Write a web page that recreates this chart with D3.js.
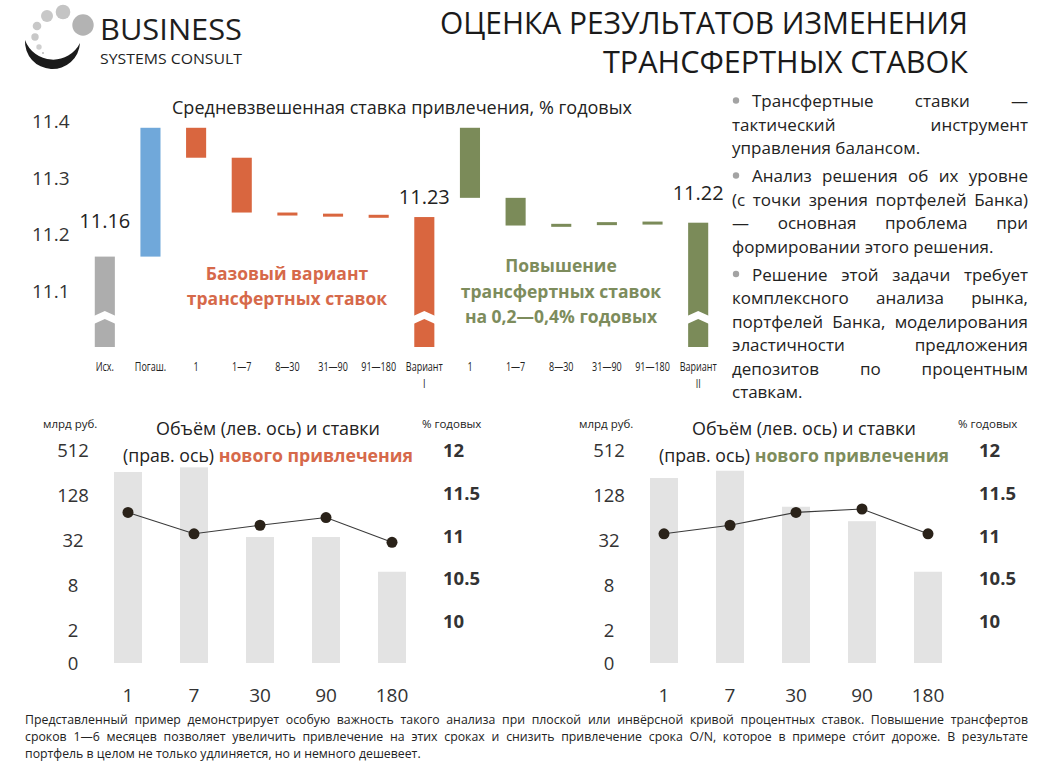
<!DOCTYPE html>
<html><head><meta charset="utf-8">
<script src="https://cdn.jsdelivr.net/npm/d3@7"></script>
<style>
body{margin:0;background:#fff;}
#wrap{position:relative;width:1055px;height:766px;overflow:hidden;background:#fff;}
svg text{font-family:"Open Sans","Noto Sans",sans-serif;}
</style></head><body><div id="wrap"></div>
<script>
// ---------- DATA ----------
const wfLabels = ["Исх.","Погаш.","1","1—7","8—30","31—90","91—180","Вариант|I","1","1—7","8—30","31—90","91—180","Вариант|II"];
const wfStart  = [11.0, 11.16, 11.388, 11.335, 11.238, 11.236, 11.234, 11.0, 11.388, 11.264, 11.215, 11.218, 11.221, 11.0];
const wfEnd    = [11.16, 11.388, 11.335, 11.238, 11.236, 11.234, 11.232, 11.23, 11.264, 11.215, 11.218, 11.221, 11.222, 11.22];
const wfGroup  = ["total","repay","base","base","base","base","base","baseTotal","raise","raise","raise","raise","raise","raiseTotal"];
const wfTicks  = [11.1, 11.2, 11.3, 11.4];

const terms     = ["1","7","30","90","180"];
const volBase   = [260, 300, 35, 35, 12];
const rateBase  = [11.27, 11.02, 11.12, 11.21, 10.92];
const volRaise  = [216, 270, 89, 57, 12];
const rateRaise = [11.02, 11.12, 11.27, 11.31, 11.02];
const volTicks  = [0, 2, 8, 32, 128, 512];
const rateTicks = [10, 10.5, 11, 11.5, 12];

const bullets = [
  [["Трансфертные ставки —",1],["тактический инструмент",1],["управления балансом.",0]],
  [["Анализ решения об их уровне",1],["(с точки зрения портфелей Банка)",1],["— основная проблема при",1],["формировании этого решения.",0]],
  [["Решение этой задачи требует",1],["комплексного анализа рынка,",1],["портфелей Банка, моделирования",1],["эластичности предложения",1],["депозитов по процентным",1],["ставкам.",0]]
];
const footLines = [
  ["Представленный пример демонстрирует особую важность такого анализа при плоской или инвёрсной кривой процентных ставок. Повышение трансфертов",1],
  ["сроков 1—6 месяцев позволяет увеличить привлечение на этих сроках и снизить привлечение срока O/N, которое в примере сто́ит дороже. В результате",1],
  ["портфель в целом не только удлиняется, но и немного дешевеет.",0]
];

// ---------- STYLE ----------
const C = {
  text:"#222", axis:"#333", orange:"#d9663f", orangeText:"#d6694a", green:"#7b8b59", greenText:"#7d8c5c",
  blue:"#70a8da", gray:"#adadad", light:"#e3e3e3", dot:"#2a2219"
};
const groupColor = {total:C.gray, repay:C.blue, base:C.orange, baseTotal:C.orange, raise:C.green, raiseTotal:C.green};

const svg = d3.select("#wrap").append("svg").attr("width",1055).attr("height",766);

// ---------- LOGO ----------
const logo = svg.append("g");
logo.append("path").attr("d","M25,40 A27.5,27.5 0 0 0 80,43 A30,30 0 0 1 25,40 Z").attr("fill","#1b1b1b");
[[83,25,10.7,"#b3b3b3"],[63,12,7.3,"#c4c4c4"],[47,16,6,"#c8c8c8"],[37,26,4.3,"#c8c8c8"],[35,37,3.7,"#c8c8c8"],[39,47,2.7,"#cfcfcf"],[43,53,1,"#bbbbbb"]]
  .forEach(c=>logo.append("circle").attr("cx",c[0]).attr("cy",c[1]).attr("r",c[2]).attr("fill",c[3]));
logo.append("text").attr("x",100).attr("y",40).attr("font-size",28.5).attr("fill","#1e1e1e")
  .attr("textLength",142).attr("lengthAdjust","spacingAndGlyphs").text("BUSINESS");
logo.append("text").attr("x",100).attr("y",64).attr("font-size",15).attr("fill","#1e1e1e")
  .attr("textLength",142).attr("lengthAdjust","spacingAndGlyphs").text("SYSTEMS CONSULT");

// ---------- TITLE ----------
svg.append("text").attr("x",968).attr("y",34).attr("text-anchor","end").attr("font-size",31).attr("fill","#1a1a1a")
  .attr("textLength",528).attr("lengthAdjust","spacingAndGlyphs").text("ОЦЕНКА РЕЗУЛЬТАТОВ ИЗМЕНЕНИЯ");
svg.append("text").attr("x",968).attr("y",73).attr("text-anchor","end").attr("font-size",31).attr("fill","#1a1a1a")
  .attr("textLength",365).attr("lengthAdjust","spacingAndGlyphs").text("ТРАНСФЕРТНЫХ СТАВОК");

// ---------- WATERFALL ----------
const wf = svg.append("g");
const xW = d3.scaleBand().domain(d3.range(wfLabels.length)).range([82,721]).paddingInner(0.56).paddingOuter(0.28);
const yW = d3.scaleLinear().domain([11.0, 11.4]).range([347, 121]);

wf.append("text").attr("x",172).attr("y",114).attr("font-size",17.5).attr("fill",C.text)
  .attr("textLength",460).attr("lengthAdjust","spacingAndGlyphs").text("Средневзвешенная ставка привлечения, % годовых");

wf.selectAll("text.yt").data(wfTicks).join("text").attr("class","yt")
  .attr("x",32).attr("y",d=>yW(d)+7).attr("font-size",19).attr("fill",C.axis).text(d=>d3.format(".1f")(d));

const wfData = wfLabels.map((l,i)=>({i, l, s:wfStart[i], e:wfEnd[i], g:wfGroup[i]}));
wf.selectAll("rect.wb").data(wfData).join("rect").attr("class","wb")
  .attr("x",d=>xW(d.i)).attr("width",xW.bandwidth())
  .attr("y",d=>yW(Math.max(d.s,d.e)))
  .attr("height",d=>Math.max(3, yW(Math.min(d.s,d.e))-yW(Math.max(d.s,d.e))))
  .attr("fill",d=>groupColor[d.g]);

// axis-break chevrons on total bars
const totals = wfData.filter(d=>/total|Total/.test(d.g));
wf.selectAll("path.chev").data(totals).join("path").attr("class","chev")
  .attr("d",d=>{const x0=xW(d.i)-1,x1=xW(d.i)+xW.bandwidth()+1,xc=(x0+x1)/2,b=yW(11.0);
    return `M${x0},${b-31} L${xc},${b-36} L${x1},${b-31} L${x1},${b-23} L${xc},${b-28} L${x0},${b-23} Z`;})
  .attr("fill","#fff");

const labelLift = {0:29, 7:13, 13:23};
wf.selectAll("text.tv").data(totals).join("text").attr("class","tv")
  .attr("x",d=>xW(d.i)+xW.bandwidth()/2).attr("y",d=>yW(d.e)-labelLift[d.i])
  .attr("text-anchor","middle").attr("font-size",20).attr("fill",C.text).text(d=>d3.format(".2f")(d.e));

// condensed category labels
wfData.forEach(d=>{
  const parts = d.l.split("|");
  const cx = xW(d.i)+xW.bandwidth()/2;
  parts.forEach((p,k)=>{
    const t = wf.append("text").attr("x",cx).attr("y",371+k*16.5).attr("text-anchor","middle")
      .attr("font-size",12.5).attr("fill",C.text).text(p);
    const w = t.node().getComputedTextLength();
    t.attr("textLength",w*0.72).attr("lengthAdjust","spacingAndGlyphs");
  });
});

function centerLines(g, lines, cx, y0, dy, color){
  lines.forEach((s,k)=>g.append("text").attr("x",cx).attr("y",y0+k*dy).attr("text-anchor","middle")
    .attr("font-size",17.5).attr("font-weight","bold").attr("fill",color).text(s));
}
centerLines(wf, ["Базовый вариант","трансфертных ставок"], 287, 280, 24.5, C.orangeText);
centerLines(wf, ["Повышение","трансфертных ставок","на 0,2—0,4% годовых"], 561, 272, 25.5, C.greenText);

// ---------- JUSTIFIED TEXT HELPER ----------
function textLine(parent, str, x0, x1, y, just, fs, color){
  if(!just){
    parent.append("text").attr("x",x0).attr("y",y).attr("font-size",fs).attr("fill",color).text(str);
    return;
  }
  const words = str.split(" ");
  const nodes = words.map(w=>parent.append("text").attr("y",y).attr("font-size",fs).attr("fill",color).text(w));
  const widths = nodes.map(n=>n.node().getComputedTextLength());
  const total = d3.sum(widths);
  const gap = words.length>1 ? (x1-x0-total)/(words.length-1) : 0;
  let x = x0;
  nodes.forEach((n,k)=>{ n.attr("x",x); x += widths[k]+gap; });
}

// right bullet text
const bt = svg.append("g");
let by = 107;
bullets.forEach(par=>{
  bt.append("circle").attr("cx",736).attr("cy",by-6.5).attr("r",3.2).attr("fill","#a3a3a3");
  par.forEach((ln,k)=>{
    const x0 = k===0 ? 752 : 732;
    textLine(bt, ln[0], x0, 1028, by, ln[1], 17, C.text);
    by += 23.5;
  });
  by += 4.5;
});

// footnote
const ft = svg.append("g");
footLines.forEach((ln,k)=>textLine(ft, ln[0], 25, 1028, 724+k*17, ln[1], 12.3, C.text));

// ---------- COMBO CHARTS ----------
function drawCombo(g, vols, rates, accent){
  const x = d3.scaleBand().domain(terms).range([95,425]).paddingInner(0.576).paddingOuter(0.288);
  const yV = d3.scaleLog().base(2).domain([0.72,512]).range([663,450]);
  const yR = d3.scaleLinear().domain([10,12]).range([621,450]);
  const cx = t=>x(t)+x.bandwidth()/2;
  const data = terms.map((t,i)=>({t, v:vols[i], r:rates[i]}));

  g.selectAll("rect.vb").data(data).join("rect").attr("class","vb")
    .attr("x",d=>x(d.t)).attr("width",x.bandwidth())
    .attr("y",d=>yV(d.v)).attr("height",d=>yV.range()[0]-yV(d.v)).attr("fill",C.light);

  g.append("path").datum(data).attr("fill","none").attr("stroke","#3a3a3a").attr("stroke-width",1.1)
    .attr("d",d3.line().x(d=>cx(d.t)).y(d=>yR(d.r)));
  g.selectAll("circle.dt").data(data).join("circle").attr("class","dt")
    .attr("cx",d=>cx(d.t)).attr("cy",d=>yR(d.r)).attr("r",5.5).attr("fill",C.dot);

  g.selectAll("text.lt").data(volTicks).join("text").attr("class","lt")
    .attr("x",73).attr("y",d=>(d===0?yV.range()[0]:yV(d))+7).attr("text-anchor","middle")
    .attr("font-size",18.5).attr("fill",C.axis).text(d=>d);
  g.selectAll("text.rt").data(rateTicks).join("text").attr("class","rt")
    .attr("x",443).attr("y",d=>yR(d)+7).attr("font-size",18.5).attr("font-weight","bold")
    .attr("fill",C.axis).text(d=>d%1?d3.format(".1f")(d):d);
  g.selectAll("text.xt").data(terms).join("text").attr("class","xt")
    .attr("x",d=>cx(d)).attr("y",702).attr("text-anchor","middle").attr("font-size",19)
    .attr("fill",C.axis).text(d=>d);

  g.append("text").attr("x",43).attr("y",428).attr("font-size",11.5).attr("fill",C.text).text("млрд руб.");
  g.append("text").attr("x",422).attr("y",428).attr("font-size",11.5).attr("fill",C.text).text("% годовых");

  g.append("text").attr("x",156).attr("y",435).attr("font-size",18).attr("fill",C.text)
    .attr("textLength",224).attr("lengthAdjust","spacingAndGlyphs").text("Объём (лев. ось) и ставки");
  const t2 = g.append("text").attr("x",123).attr("y",462).attr("font-size",18).attr("fill",C.text)
    .attr("textLength",290).attr("lengthAdjust","spacingAndGlyphs");
  t2.append("tspan").text("(прав. ось) ");
  t2.append("tspan").attr("font-weight","bold").attr("fill",accent).text("нового привлечения");
}
drawCombo(svg.append("g"), volBase, rateBase, C.orangeText);
drawCombo(svg.append("g").attr("transform","translate(536,0)"), volRaise, rateRaise, C.greenText);
</script></body></html>
